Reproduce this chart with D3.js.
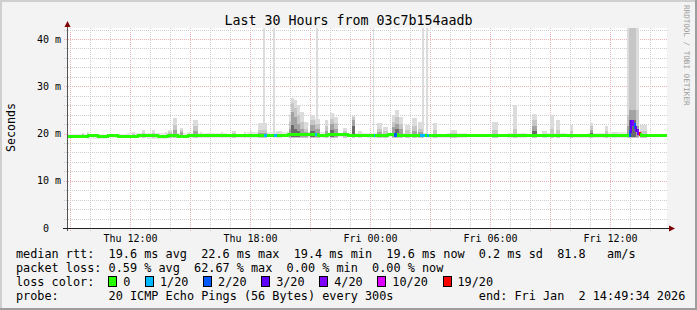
<!DOCTYPE html>
<html>
<head>
<meta charset="utf-8">
<script src="https://cdn.jsdelivr.net/npm/d3@7"></script>
<style>
  html, body { margin: 0; padding: 0; background: #f3f3f3; }
  svg { display: block; }
  text { font-family: "DejaVu Sans Mono", monospace; white-space: pre; fill: #000; }
</style>
</head>
<body>
<svg id="chart" width="697" height="310"></svg>
<script>
// data (hours counted from Thu 00:00)
const titleText = "Last 30 Hours from 03c7b154aadb";
const endStamp = "Fri Jan  2 14:49:34 2026";
const startHour = 8.826;
const endHour = 38.826;
const yTicks = [0, 10, 20, 30, 40];
const yTickLabels = ["0  ", "10 m", "20 m", "30 m", "40 m"];

// median rtt, one value per half hour (ms)
const medianByHalfHour = [
  19.4, 19.4, 19.5, 19.4, 19.5, 19.4, 19.4, 19.5, 19.5, 19.4,
  19.5, 19.4, 19.5, 19.5, 19.6, 19.5, 19.5, 19.5, 19.5, 19.5,
  19.6, 19.6, 19.7, 19.8, 19.7, 19.6, 19.7, 19.7, 19.6, 19.6,
  19.6, 19.6, 19.7, 19.6, 19.6, 19.6, 19.5, 19.5, 19.5, 19.5,
  19.5, 19.6, 19.6, 19.5, 19.6, 19.6, 19.6, 19.6, 19.6, 19.6,
  19.6, 19.5, 19.5, 19.6, 19.5, 19.5, 19.6, 19.5, 19.6, 19.6
];

// faint smoke around the median, one value per hour (ms)
const ambientLow = [19.0, 18.9, 19.0, 19.1, 18.9, 19.0, 19.0, 19.1, 19.0, 19.1,
  19.2, 19.2, 19.1, 19.2, 19.2, 19.1, 19.2, 19.2, 19.0, 19.1,
  19.2, 19.2, 19.1, 19.2, 19.2, 19.1, 19.0, 19.1, 19.2, 19.2];
const ambientHigh = [19.9, 20.0, 20.0, 20.1, 20.2, 20.2, 20.1, 20.2, 20.0, 20.3,
  20.4, 20.5, 20.3, 20.2, 20.1, 20.2, 20.1, 20.2, 20.0, 20.2,
  20.0, 20.0, 20.1, 20.0, 20.2, 20.0, 20.1, 20.3, 20.2, 20.0];

// smoke bursts: [fromHour, toHour, max, upper, mid, core] (ms, 0 = none)
const smokeBursts = [
  [9.58, 9.68, 20.2, 19.9, 0, 0],
  [9.83, 9.93, 20.4, 20.0, 0, 0],
  [12.08, 12.23, 20.4, 20.0, 0, 0],
  [12.58, 12.73, 20.7, 20.2, 0, 0],
  [13.08, 13.23, 20.7, 20.2, 0, 0],
  [13.73, 13.8, 20.3, 0, 0, 0],
  [13.88, 14.08, 20.7, 20.3, 20.0, 0],
  [14.13, 14.33, 23.3, 21.8, 20.7, 0],
  [14.48, 14.63, 21.2, 20.8, 20.4, 0],
  [14.88, 14.95, 20.4, 0, 0, 0],
  [15.13, 15.38, 22.8, 21.5, 20.6, 0],
  [15.48, 15.58, 20.4, 0, 0, 0],
  [15.83, 15.9, 20.1, 0, 0, 0],
  [16.55, 16.65, 20.4, 0, 0, 0],
  [17.08, 17.3, 20.5, 20.1, 0, 0],
  [17.7, 17.8, 20.3, 0, 0, 0],
  [18.0, 18.1, 20.6, 0, 0, 0],
  [18.38, 18.83, 22.2, 20.8, 20.2, 0],
  [18.63, 18.73, 50, 0, 0, 0],
  [19.13, 19.2, 50, 0, 0, 0],
  [19.3, 19.6, 20.5, 0, 0, 0],
  [19.93, 20.03, 24.0, 22.5, 21.0, 0],
  [20.03, 20.18, 27.5, 26.5, 24.5, 21.8],
  [20.18, 20.33, 27.0, 25.5, 23.5, 21.0],
  [20.33, 20.5, 26.0, 24.0, 22.0, 20.6],
  [20.5, 20.7, 24.5, 22.5, 21.0, 0],
  [20.7, 20.88, 22.5, 21.0, 20.3, 0],
  [20.98, 21.23, 23.9, 22.8, 21.8, 20.6],
  [21.23, 21.48, 23.0, 22.0, 21.0, 0],
  [21.3, 21.36, 50, 0, 0, 0],
  [21.73, 21.88, 22.8, 21.5, 20.5, 0],
  [21.98, 22.18, 24.3, 23.0, 22.0, 20.8],
  [22.18, 22.38, 23.5, 22.3, 21.0, 0],
  [22.63, 22.83, 21.2, 20.5, 0, 0],
  [23.08, 23.23, 23.8, 23.5, 22.8, 21.5],
  [23.4, 23.6, 20.5, 0, 0, 0],
  [24.12, 24.19, 50, 0, 0, 0],
  [24.33, 24.58, 22.2, 21.0, 20.3, 0],
  [24.63, 24.88, 21.4, 20.6, 0, 0],
  [25.08, 25.25, 24.0, 22.5, 21.3, 0],
  [25.25, 25.45, 25.0, 23.5, 22.0, 21.0],
  [25.45, 25.63, 23.5, 22.0, 21.0, 0],
  [25.73, 25.98, 21.8, 20.8, 0, 0],
  [26.08, 26.33, 23.3, 21.5, 20.5, 0],
  [26.38, 26.63, 22.4, 21.0, 20.3, 0],
  [26.6, 26.66, 50, 0, 0, 0],
  [26.8, 26.86, 50, 0, 0, 0],
  [27.13, 27.33, 22.2, 20.8, 0, 0],
  [27.98, 28.33, 20.7, 20.2, 0, 0],
  [30.08, 30.38, 22.4, 20.8, 0, 0],
  [31.13, 31.33, 26.0, 21.0, 0, 0],
  [32.08, 32.33, 24.1, 22.8, 21.5, 20.5],
  [32.58, 32.83, 20.5, 0, 0, 0],
  [32.98, 33.2, 23.9, 21.0, 0, 0],
  [33.3, 33.48, 22.8, 20.8, 0, 0],
  [33.98, 34.13, 21.8, 20.5, 0, 0],
  [34.98, 35.13, 22.2, 21.5, 20.8, 20.2],
  [35.73, 35.88, 21.6, 20.5, 0, 0],
  [36.08, 36.33, 20.4, 0, 0, 0],
  [36.83, 36.95, 50, 24.0, 21.5, 0],
  [36.95, 37.3, 50, 50, 25.0, 22.8],
  [37.3, 37.43, 50, 25.0, 21.5, 0],
  [37.48, 37.83, 21.8, 20.6, 0, 0]
];

// steps with packet loss: [hour, loss level index, median ms]
const lossSteps = [
  [18.63, 1, 19.5], [18.71, 1, 19.5], [19.13, 1, 19.6], [19.21, 1, 19.6],
  [21.28, 1, 19.7], [24.18, 1, 19.6], [25.18, 2, 19.6], [25.26, 2, 19.7],
  [26.53, 1, 19.5], [26.61, 1, 19.5], [26.7, 1, 19.5], [26.83, 1, 19.5],
  [36.88, 2, 20.4], [36.96, 3, 22.6], [37.05, 4, 22.0], [37.13, 2, 21.2],
  [37.21, 3, 20.6], [37.3, 4, 20.0], [37.38, 6, 19.7]
];

const lossLabels = ["0", "1/20", "2/20", "3/20", "4/20", "10/20", "19/20"];
const lossColors = ["#26ff00", "#00b8ff", "#0059ff", "#5e00ff", "#7e00ff", "#dd00ff", "#ff0000"];

const rttStats = [19.6, 22.6, 19.4, 19.6]; // avg max min now
const rttSd = 0.2;
const rttAm = 81.8;
const lossStats = [0.59, 62.67, 0.00, 0.00]; // avg max min now
const probeText = "20 ICMP Echo Pings (56 Bytes) every 300s";

// layout
const W = 697, H = 310;
const plot = { left: 67, right: 667, top: 28, bottom: 228 };
const svg = d3.select("#chart");

const base = new Date(2026, 0, 1, 0, 0, 0);
const toDate = h => new Date(base.getTime() + h * 3600e3);

const x = d3.scaleTime()
    .domain([toDate(startHour), toDate(endHour)])
    .range([plot.left, plot.right]);
const y = d3.scaleLinear()
    .domain([0, 42.33])
    .range([plot.bottom, plot.top]);

// background and frame
svg.append("rect").attr("width", W).attr("height", H).attr("fill", "#f3f3f3");
svg.append("rect").attr("x", 0).attr("y", 0).attr("width", W).attr("height", 2).attr("fill", "#cfcfcf");
svg.append("rect").attr("x", 0).attr("y", 0).attr("width", 2).attr("height", H).attr("fill", "#cfcfcf");
svg.append("rect").attr("x", W - 2).attr("y", 0).attr("width", 2).attr("height", H).attr("fill", "#9e9e9e");
svg.append("rect").attr("x", 0).attr("y", H - 2).attr("width", W).attr("height", 2).attr("fill", "#9e9e9e");

svg.append("rect")
    .attr("x", plot.left).attr("y", plot.top)
    .attr("width", plot.right - plot.left).attr("height", plot.bottom - plot.top)
    .attr("fill", "#ffffff");

svg.append("clipPath").attr("id", "clip")
  .append("rect")
    .attr("x", plot.left).attr("y", plot.top)
    .attr("width", plot.right - plot.left).attr("height", plot.bottom - plot.top);

// grid (under the smoke)
const minorGrid = "#cdcdcd", majorGrid = "#eeb2b2";
const hourTicks = x.ticks(d3.timeHour.every(1));
const gridG = svg.append("g").attr("shape-rendering", "crispEdges");
gridG.selectAll(".vgrid")
  .data(hourTicks)
  .enter().append("line")
    .attr("x1", d => Math.round(x(d)) + 0.5).attr("x2", d => Math.round(x(d)) + 0.5)
    .attr("y1", plot.top).attr("y2", plot.bottom + 3)
    .attr("stroke", d => d.getHours() % 3 === 0 ? majorGrid : minorGrid)
    .attr("stroke-dasharray", "1,1");

const yMinor = d3.range(2, 43, 2);
gridG.selectAll(".hgrid")
  .data(yMinor)
  .enter().append("line")
    .attr("x1", plot.left - 3).attr("x2", plot.right)
    .attr("y1", d => Math.round(y(d)) + 0.5).attr("y2", d => Math.round(y(d)) + 0.5)
    .attr("stroke", d => d % 10 === 0 ? majorGrid : minorGrid)
    .attr("stroke-dasharray", "1,1");

const g = svg.append("g").attr("clip-path", "url(#clip)").attr("shape-rendering", "crispEdges");

// faint smoke band
g.selectAll(".ambient")
  .data(ambientLow.map((lo, i) => ({ i, lo, hi: ambientHigh[i] })))
  .enter().append("rect")
    .attr("class", "ambient")
    .attr("x", d => x(toDate(startHour + d.i)))
    .attr("width", d => x(toDate(startHour + d.i + 1)) - x(toDate(startHour + d.i)))
    .attr("y", d => y(d.hi))
    .attr("height", d => y(d.lo) - y(d.hi))
    .attr("fill", "#e8e8e8");

// smoke layers, light to dark
const smokeLayers = [
  { col: 2, lo: 19.1, color: "#dcdcdc" },
  { col: 3, lo: 19.1, color: "#c6c6c6" },
  { col: 4, lo: 19.2, color: "#a2a2a2" },
  { col: 5, lo: 19.3, color: "#6a6a6a" }
];
smokeLayers.forEach(layer => {
  g.selectAll(".smoke" + layer.col)
    .data(smokeBursts.filter(d => d[layer.col] > 0))
    .enter().append("rect")
      .attr("class", "smoke" + layer.col)
      .attr("x", d => x(toDate(d[0])))
      .attr("width", d => Math.max(1.5, x(toDate(d[1])) - x(toDate(d[0]))))
      .attr("y", d => y(d[layer.col]))
      .attr("height", d => y(layer.lo) - y(d[layer.col]))
      .attr("fill", layer.color);
});

// median line, one segment per 5 minute step, coloured by loss
const stepCount = 360;
const lossByStep = new Map(lossSteps.map(d => [Math.round((d[0] - startHour) * 12), d]));
const steps = d3.range(stepCount).map(i => {
  const loss = lossByStep.get(i);
  return {
    i,
    median: loss ? loss[2] : medianByHalfHour[Math.floor(i / 6)],
    level: loss ? loss[1] : 0
  };
});
steps.forEach((d, k) => { d.prev = k > 0 ? steps[k - 1].median : d.median; });

g.selectAll(".median")
  .data(steps)
  .enter().append("rect")
    .attr("class", "median")
    .attr("x", d => x(toDate(startHour + d.i / 12)))
    .attr("width", d => x(toDate(startHour + (d.i + 1) / 12)) - x(toDate(startHour + d.i / 12)) + 0.4)
    .attr("y", d => y(Math.max(d.median, d.prev)) - 1.5)
    .attr("height", d => y(Math.min(d.median, d.prev)) - y(Math.max(d.median, d.prev)) + 3)
    .attr("fill", d => lossColors[d.level]);

// axes
const axisColor = "#222", arrowColor = "#7f0000";
svg.append("line")
    .attr("x1", plot.left + 0.5).attr("x2", plot.left + 0.5)
    .attr("y1", plot.bottom + 3).attr("y2", plot.top - 2)
    .attr("stroke", "#555").attr("shape-rendering", "crispEdges");
svg.append("line")
    .attr("x1", plot.left - 4).attr("x2", plot.right + 2)
    .attr("y1", plot.bottom + 0.5).attr("y2", plot.bottom + 0.5)
    .attr("stroke", axisColor).attr("shape-rendering", "crispEdges");
svg.append("path")
    .attr("d", `M${plot.left + 0.5},${plot.top - 7} L${plot.left + 3.5},${plot.top - 1} L${plot.left - 2.5},${plot.top - 1} Z`)
    .attr("fill", arrowColor);
svg.append("path")
    .attr("d", `M${plot.right + 8},${plot.bottom + 0.5} L${plot.right + 2},${plot.bottom - 2.5} L${plot.right + 2},${plot.bottom + 3.5} Z`)
    .attr("fill", arrowColor);

// y labels
svg.selectAll(".ylab")
  .data(yTicks)
  .enter().append("text")
    .attr("x", 61)
    .attr("y", d => y(d) + 3.5)
    .attr("text-anchor", "end")
    .attr("font-size", "10px")
    .text((d, i) => yTickLabels[i]);

// x labels every 6 hours
const fmt = d3.timeFormat("%a %H:%M");
svg.selectAll(".xlab")
  .data(x.ticks(d3.timeHour.every(6)))
  .enter().append("text")
    .attr("x", d => x(d))
    .attr("y", 241.5)
    .attr("text-anchor", "middle")
    .attr("font-size", "10px")
    .text(d => fmt(d));

// title
svg.append("text")
    .attr("x", 348.5).attr("y", 24.5)
    .attr("text-anchor", "middle")
    .attr("font-size", "13.3px")
    .text(titleText);

// axis title
svg.append("text")
    .attr("transform", "translate(15,127.5) rotate(-90)")
    .attr("text-anchor", "middle")
    .attr("font-size", "11.6px")
    .text("Seconds");

// watermark
svg.append("text")
    .attr("transform", "translate(684,5) rotate(90)")
    .attr("font-size", "7.6px")
    .style("fill", "#9c9c9c")
    .text("RRDTOOL / TOBI OETIKER");

// legend
const legendX = 16, charW = 7.12, legendFont = "11.83px";
const f1 = v => v.toFixed(1), f2 = v => v.toFixed(2);
const legendLines = [
  `median rtt:  ${f1(rttStats[0])} ms avg  ${f1(rttStats[1])} ms max  ${f1(rttStats[2])} ms min  ${f1(rttStats[3])} ms now  ${f1(rttSd)} ms sd  ${f1(rttAm)}   am/s`,
  `packet loss: ${f2(lossStats[0])} % avg  ${f2(lossStats[1])} % max  ${f2(lossStats[2])} % min  ${f2(lossStats[3])} % now`,
  "loss color:",
  `probe:       ${probeText}`
];
const baselines = [257.5, 271.5, 285.5, 299.5];
svg.selectAll(".legend")
  .data(legendLines)
  .enter().append("text")
    .attr("x", legendX)
    .attr("y", (d, i) => baselines[i])
    .attr("font-size", legendFont)
    .text(d => d);

svg.append("text")
    .attr("x", legendX + 65 * charW)
    .attr("y", baselines[3])
    .attr("font-size", legendFont)
    .text("end: " + endStamp);

// loss colour boxes
let cursor = legendX + 13 * charW - 0.3;
lossLabels.forEach((label, i) => {
  svg.append("rect")
      .attr("x", Math.round(cursor) + 0.5).attr("y", 276.5)
      .attr("width", 8).attr("height", 10)
      .attr("fill", lossColors[i])
      .attr("stroke", "#000").attr("stroke-width", 1)
      .attr("shape-rendering", "crispEdges");
  svg.append("text")
      .attr("x", cursor + 15)
      .attr("y", baselines[2])
      .attr("font-size", legendFont)
      .text(label);
  cursor += 15 + label.length * charW + 14.6;
});
</script>
</body>
</html>
